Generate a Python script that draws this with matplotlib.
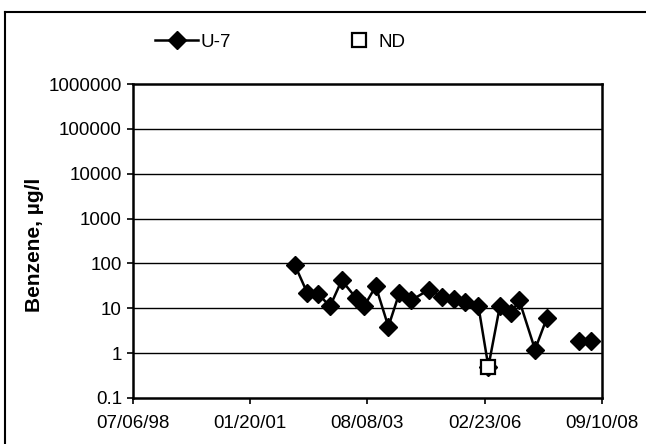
import numpy as np
import matplotlib
matplotlib.use("Agg")
import matplotlib.pyplot as plt
import matplotlib.dates as mdates
from matplotlib.lines import Line2D
from datetime import datetime

plt.rcParams['font.family'] = ['Liberation Sans', 'DejaVu Sans']

# ── Data ───────────────────────────────────────────────────
u7_dates = ["2002-01-11", "2002-04-18", "2002-07-14", "2002-10-15", "2003-01-16",
            "2003-05-09", "2003-07-12", "2003-10-13", "2004-01-21", "2004-04-17",
            "2004-07-19", "2004-12-08", "2005-03-24", "2005-06-25", "2005-09-20",
            "2006-01-03", "2006-03-24", "2006-06-24", "2006-09-17", "2006-11-24",
            "2007-03-29", "2007-06-30", "2007-10-15", "2008-03-12", "2008-06-15"]
u7_values = [90, 22, 21, 11, 42,
             17, 11, 31, 3.9, 22,
             15, 26, 18, 16, 13.5,
             11.5, 0.5, 11.5, 7.8, 15,
             1.2, 6.0, np.nan, 1.9, 1.9]

nd_dates = ["2006-03-24"]
nd_values = [0.5]

x_tick_dates = ["1998-07-06", "2001-01-20", "2003-08-08", "2006-02-23", "2008-09-10"]
x_tick_labels = ["07/06/98", "01/20/01", "08/08/03", "02/23/06", "09/10/08"]
y_ticks = [0.1, 1, 10, 100, 1000, 10000, 100000, 1000000]
y_tick_labels = ["0.1", "1", "10", "100", "1000", "10000", "100000", "1000000"]


def to_num(ds):
    return mdates.date2num([datetime.strptime(d, "%Y-%m-%d") for d in ds])


# ── Plot ───────────────────────────────────────────────────
fig = plt.figure(figsize=(6.46, 4.44), dpi=100)
ax = fig.add_axes([133 / 646, 1 - 398 / 444, 469 / 646, 314 / 444])

ax.plot(to_num(u7_dates), u7_values, color='black', linewidth=1.8,
        marker='D', markersize=9, markerfacecolor='black', markeredgecolor='black',
        zorder=3)
ax.plot(to_num(nd_dates), nd_values, linestyle='none', marker='s', markersize=10,
        markerfacecolor='white', markeredgecolor='black', markeredgewidth=1.6,
        zorder=4)

ax.set_yscale('log')
ax.set_ylim(0.1, 1000000)
ax.set_yticks(y_ticks)
ax.set_yticklabels(y_tick_labels)
ax.minorticks_off()

xt = to_num(x_tick_dates)
ax.set_xlim(xt[0], xt[-1])
ax.set_xticks(xt)
ax.set_xticklabels(x_tick_labels)

for y in y_ticks[1:-1]:
    ax.axhline(y, color='black', linewidth=1.0, zorder=1)

for s in ax.spines.values():
    s.set_linewidth(1.8)
ax.tick_params(axis='both', labelsize=13.5, direction='out', length=4, width=1.2,
               pad=4, colors='black')
ax.tick_params(axis='x', pad=8)

ax.set_ylabel('Benzene, µg/l', fontsize=15, fontweight='bold')
ax.yaxis.set_label_coords(-0.19, 0.489)

# legend: two separate entries
h1 = Line2D([], [], color='black', linewidth=1.8, marker='D', markersize=9)
h2 = Line2D([], [], linestyle='none', marker='s', markersize=10,
            markerfacecolor='white', markeredgecolor='black', markeredgewidth=1.6)
fig.legend([h1], ['U-7'], loc='center left', bbox_to_anchor=(155 / 646, 1 - 42 / 444),
           frameon=False, fontsize=13.5, borderpad=0, borderaxespad=0,
           handlelength=2.3, handletextpad=0.15)
fig.legend([h2], ['ND'], loc='center left', bbox_to_anchor=(348 / 646, 1 - 42 / 444),
           frameon=False, fontsize=13.5, borderpad=0, borderaxespad=0,
           handlelength=1.2, handletextpad=0.45)

# outer border (left and top only)
fig.add_artist(Line2D([5 / 646, 5 / 646], [0, 1 - 12 / 444], color='black', linewidth=1.5))
fig.add_artist(Line2D([5 / 646, 1], [1 - 12 / 444, 1 - 12 / 444], color='black', linewidth=1.5))

fig.savefig('out.png', dpi=100)
